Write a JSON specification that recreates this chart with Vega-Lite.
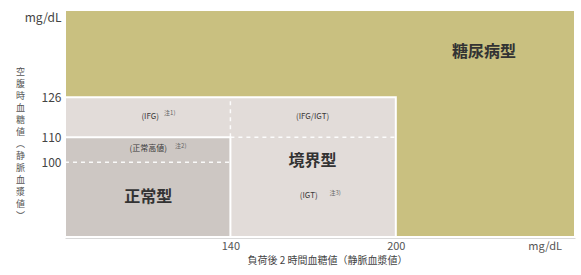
{
  "$schema": "https://vega.github.io/schema/vega-lite/v6.json",
  "width": 510,
  "height": 227,
  "autosize": {"type": "none"},
  "padding": {"left": 65, "top": 10, "right": 6, "bottom": 38},
  "background": "#ffffff",
  "config": {"view": {"stroke": null}, "font": "Noto Sans CJK JP"},
  "datasets": {
    "zones": [
      {"zone": "糖尿病型", "x0": 80, "x1": 265, "y0": 70, "y1": 161},
      {"zone": "境界型", "x0": 80, "x1": 200, "y0": 70, "y1": 126},
      {"zone": "正常型", "x0": 80, "x1": 140, "y0": 70, "y1": 110}
    ],
    "dashes": [
      {"x0": 80, "x1": 140, "y0": 100, "y1": 100},
      {"x0": 140, "x1": 200, "y0": 110, "y1": 110},
      {"x0": 140, "x1": 140, "y0": 110, "y1": 126}
    ],
    "big": [
      {"label": "正常型", "x": 110.2, "y": 86},
      {"label": "境界型", "x": 169.8, "y": 100.4},
      {"label": "糖尿病型", "x": 232, "y": 144}
    ],
    "small": [
      {"label": "(IFG)", "x": 110.9, "y": 118},
      {"label": "(IFG/IGT)", "x": 169.8, "y": 118},
      {"label": "(正常高値)", "x": 110.2, "y": 105.2},
      {"label": "(IGT)", "x": 168.4, "y": 86.4}
    ],
    "notes": [
      {"label": "注1)", "x": 118, "y": 119.6},
      {"label": "注2)", "x": 122, "y": 106.6},
      {"label": "注3)", "x": 178, "y": 87.8}
    ]
  },
  "layer": [
    {
      "data": {"name": "zones"},
      "mark": {"type": "rect", "stroke": "#ffffff", "strokeWidth": 2},
      "encoding": {
        "x": {
          "field": "x0", "type": "quantitative",
          "scale": {"domain": [80, 265], "nice": false, "zero": false},
          "axis": {
            "values": [140, 200, 254],
            "labelExpr": "datum.value == 254 ? 'mg/dL' : datum.label",
            "grid": false, "ticks": false,
            "domainColor": "#666666", "domainWidth": 1.5,
            "labelColor": "#555555", "labelFontSize": 11, "labelPadding": 3,
            "title": "負荷後 2 時間血糖値（静脈血漿値）",
            "titleFontSize": 10, "titleFontWeight": "normal", "titleColor": "#444444",
            "titlePadding": 4, "titleX": 262
          }
        },
        "x2": {"field": "x1"},
        "y": {
          "field": "y0", "type": "quantitative",
          "scale": {"domain": [70, 161], "nice": false, "zero": false},
          "axis": {
            "values": [100, 110, 126, 158],
            "labelExpr": "datum.value == 158 ? 'mg/dL' : datum.label",
            "grid": false, "ticks": false,
            "domainColor": "#777777", "domainWidth": 1.5,
            "labelColor": "#444444", "labelFontSize": 12, "labelPadding": 4,
            "title": ["空", "腹", "時", "血", "糖", "値", "︵", "静", "脈", "血", "漿", "値", "︶"],
            "titleAngle": 0, "titleAlign": "center", "titleBaseline": "top",
            "titleX": -45, "titleY": 57, "titleLineHeight": 12,
            "titleFontSize": 9, "titleFontWeight": "normal", "titleColor": "#555555"
          }
        },
        "y2": {"field": "y1"},
        "color": {
          "field": "zone", "type": "nominal",
          "scale": {"domain": ["糖尿病型", "境界型", "正常型"], "range": ["#c9c080", "#e2dcd9", "#cdc7c3"]},
          "legend": null
        }
      }
    },
    {
      "data": {"name": "dashes"},
      "mark": {"type": "rule", "color": "#ffffff", "strokeWidth": 1.5, "strokeDash": [4, 4], "opacity": 0.9},
      "encoding": {
        "x": {"field": "x0", "type": "quantitative"},
        "x2": {"field": "x1"},
        "y": {"field": "y0", "type": "quantitative"},
        "y2": {"field": "y1"}
      }
    },
    {
      "data": {"name": "big"},
      "mark": {"type": "text", "fontSize": 16, "fontWeight": "bold", "color": "#333333"},
      "encoding": {
        "x": {"field": "x", "type": "quantitative"},
        "y": {"field": "y", "type": "quantitative"},
        "text": {"field": "label"}
      }
    },
    {
      "data": {"name": "small"},
      "mark": {"type": "text", "fontSize": 8, "color": "#3a3a3a"},
      "encoding": {
        "x": {"field": "x", "type": "quantitative"},
        "y": {"field": "y", "type": "quantitative"},
        "text": {"field": "label"}
      }
    },
    {
      "data": {"name": "notes"},
      "mark": {"type": "text", "fontSize": 6, "color": "#666666"},
      "encoding": {
        "x": {"field": "x", "type": "quantitative"},
        "y": {"field": "y", "type": "quantitative"},
        "text": {"field": "label"}
      }
    }
  ]
}
